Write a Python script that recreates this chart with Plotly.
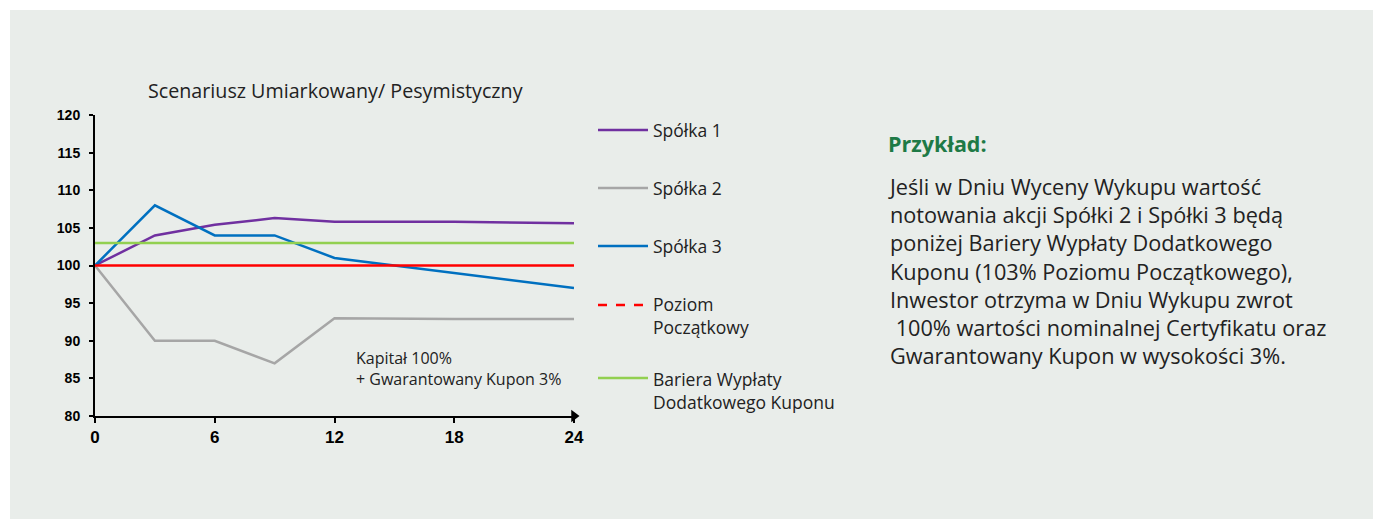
import plotly.graph_objects as go

# miesiące obserwacji
months = [0, 3, 6, 9, 12, 18, 24]
spolka1 = [100, 104.0, 105.4, 106.3, 105.8, 105.8, 105.6]
spolka2 = [100, 90, 90, 87, 93, 92.9, 92.9]
spolka3 = [100, 108, 104, 104, 101, 99, 97]
poziom_poczatkowy = [100, 100]
bariera = [103, 103]
level_x = [0, 24]

x_ticks = [0, 6, 12, 18, 24]
y_ticks = [80, 85, 90, 95, 100, 105, 110, 115, 120]

names = ["Spółka 1", "Spółka 2", "Spółka 3", "Poziom<br>Początkowy", "Bariera Wypłaty<br>Dodatkowego Kuponu"]
colors = ["#7030a0", "#a6a6a6", "#0070c0", "#ff0000", "#92d050"]

W, H = 1373, 519
L, R, T, B = 95, 574, 115, 416  # obszar wykresu w pikselach
PANEL = "#e9edea"


def px(x):
    return (x - L) / (R - L)


def py(y):
    return (B - y) / (B - T)


text_font = "Open Sans"
fig = go.Figure()

series = [(months, spolka1), (months, spolka2), (months, spolka3),
          (level_x, poziom_poczatkowy), (level_x, bariera)]
for (xs, ys), c, n in zip(series, colors, names):
    fig.add_trace(go.Scatter(x=xs, y=ys, mode="lines", name=n,
                             line=dict(color=c, width=2.5), showlegend=False))

# strzałka na końcu osi X
fig.add_trace(go.Scatter(x=[24], y=[80], mode="markers", cliponaxis=False, showlegend=False,
                         marker=dict(symbol="triangle-right", size=11, color="black")))

# białe pasy nad i na lewo od panelu
shapes = [dict(type="rect", xref="paper", yref="paper", x0=px(0), x1=px(1400), y0=py(10), y1=py(0),
               fillcolor="white", line=dict(width=0), layer="below"),
          dict(type="rect", xref="paper", yref="paper", x0=px(0), x1=px(10), y0=py(560), y1=py(0),
               fillcolor="white", line=dict(width=0), layer="below")]
annotations = []

# legenda
leg_y = [130, 188, 246, 305, 378]
leg_text_y = [130, 188, 246, 315, 390]
for i, (n, c) in enumerate(zip(names, colors)):
    shapes.append(dict(type="line", xref="paper", yref="paper", x0=px(598), x1=px(648),
                       y0=py(leg_y[i]), y1=py(leg_y[i]),
                       line=dict(color=c, width=2.5, dash="dash" if i == 3 else "solid")))
    annotations.append(dict(xref="paper", yref="paper", x=px(651), y=py(leg_text_y[i]), text=n,
                            showarrow=False, xanchor="left", yanchor="middle", align="left",
                            font=dict(family=text_font, size=17.5, color="#222")))

annotations.append(dict(xref="paper", yref="paper", x=px(335), y=py(91),
                        text="Scenariusz Umiarkowany/ Pesymistyczny", showarrow=False,
                        xanchor="center", yanchor="middle",
                        font=dict(family=text_font, size=19.7, color="#222")))
annotations.append(dict(x=13.0, y=86.3, text="Kapitał 100%<br>+ Gwarantowany Kupon 3%",
                        showarrow=False, xanchor="left", yanchor="middle", align="left",
                        font=dict(family=text_font, size=16, color="#222")))

annotations.append(dict(xref="paper", yref="paper", x=px(886), y=py(143), text="<b>Przykład:</b>",
                        showarrow=False, xanchor="left", yanchor="middle",
                        font=dict(family=text_font, size=21.5, color="#1e7a46")))
body = ("Jeśli w Dniu Wyceny Wykupu wartość<br>"
        "notowania akcji Spółki 2 i Spółki 3 będą<br>"
        "poniżej Bariery Wypłaty Dodatkowego<br>"
        "Kuponu (103% Poziomu Początkowego),<br>"
        "Inwestor otrzyma w Dniu Wykupu zwrot<br>"
        " 100% wartości nominalnej Certyfikatu oraz<br>"
        "Gwarantowany Kupon w wysokości 3%.")
annotations.append(dict(xref="paper", yref="paper", x=px(886), y=py(170), text=body,
                        showarrow=False, xanchor="left", yanchor="top", align="left",
                        font=dict(family=text_font, size=21.7, color="#222")))

fig.update_layout(
    width=W, height=H,
    margin=dict(l=L, r=W - R, t=T, b=H - B, pad=0),
    paper_bgcolor=PANEL, plot_bgcolor="rgba(0,0,0,0)",
    shapes=shapes, annotations=annotations,
    showlegend=False,
)
fig.update_xaxes(range=[0, 24], tickvals=x_ticks, showgrid=False, zeroline=False,
                 showline=True, linecolor="black", linewidth=2,
                 ticks="outside", ticklen=5, tickwidth=1.5, tickcolor="black",
                 tickfont=dict(family="Liberation Sans", size=17, color="black", weight="bold"))
fig.update_yaxes(range=[80, 120], tickvals=y_ticks, showgrid=False, zeroline=False,
                 showline=True, linecolor="black", linewidth=2,
                 ticks="outside", ticklen=4, tickwidth=1.5, tickcolor="black", ticklabelstandoff=6,
                 tickfont=dict(family="Liberation Sans", size=14, color="black", weight="bold"))

# bez marginesu strony, żeby panel sięgał do krawędzi okna
page_css = "document.body.style.margin='0';document.body.style.background='" + PANEL + "';"
fig.write_html("out.html", post_script=page_css, config={"displayModeBar": False})
